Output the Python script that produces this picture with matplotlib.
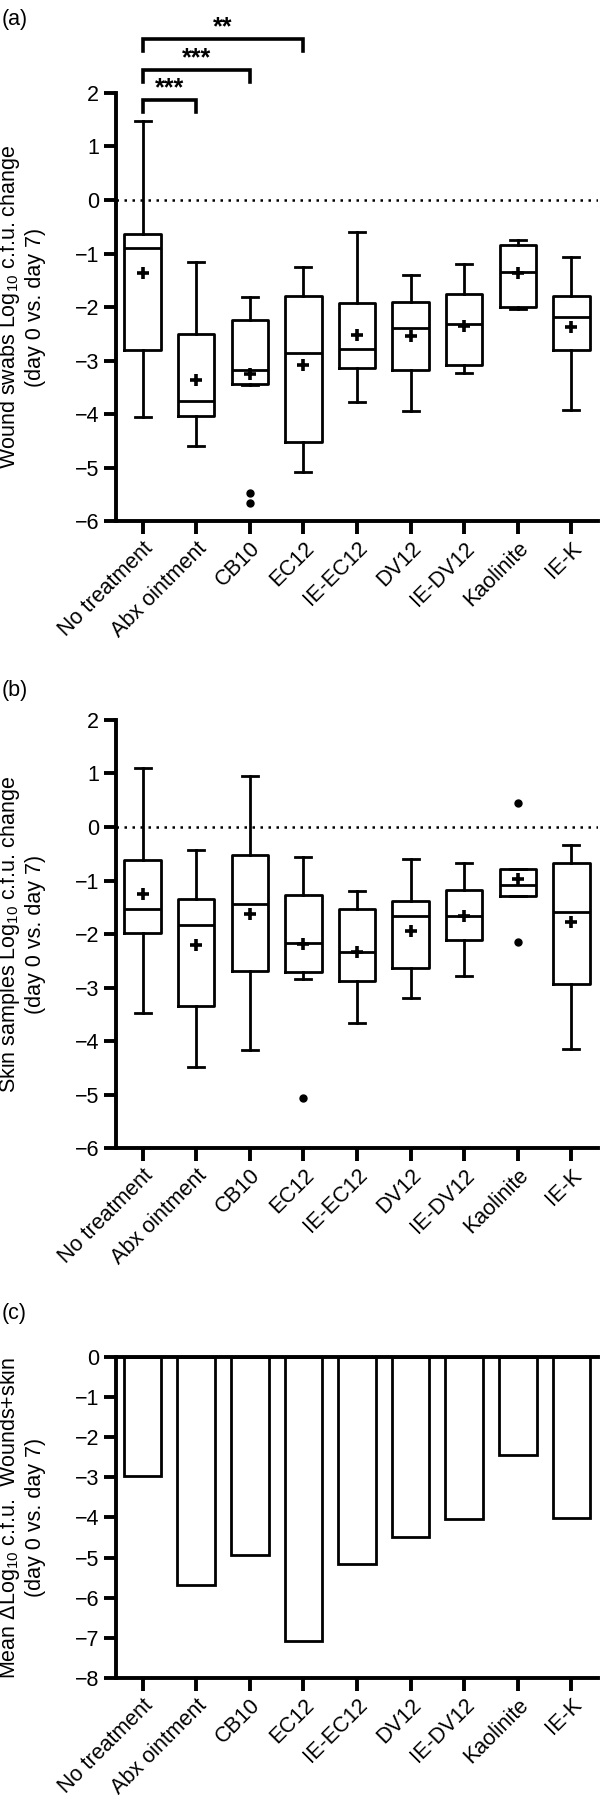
import numpy as np
import matplotlib
matplotlib.use('Agg')
from matplotlib import pyplot as plt

groups = ["No treatment", "Abx ointment", "CB10", "EC12", "IE-EC12",
          "DV12", "IE-DV12", "Kaolinite", "IE-K"]

# (a) wound swabs: box statistics
a_whislo = [-4.05, -4.59, -3.46, -5.09, -3.77, -3.94, -3.23, -2.04, -3.93]
a_q1 = [-2.81, -4.03, -3.44, -4.52, -3.14, -3.18, -3.09, -2.00, -2.81]
a_med = [-0.89, -3.75, -3.18, -2.86, -2.78, -2.40, -2.31, -1.34, -2.19]
a_q3 = [-0.64, -2.50, -2.24, -1.79, -1.93, -1.90, -1.76, -0.84, -1.80]
a_whishi = [1.48, -1.16, -1.81, -1.26, -0.59, -1.41, -1.19, -0.75, -1.06]
a_mean = [-1.36, -3.37, -3.26, -3.09, -2.53, -2.55, -2.35, -1.37, -2.37]
a_fliers = [[], [], [-5.47, -5.67], [], [], [], [], [], []]

# significance brackets: (group i, group j, label)
a_sig = [(0, 1, "***"), (0, 2, "***"), (0, 3, "**")]

# (b) skin samples
b_whislo = [-3.47, -4.49, -4.17, -2.84, -3.66, -3.19, -2.79, -1.29, -4.14]
b_q1 = [-1.98, -3.35, -2.70, -2.71, -2.87, -2.64, -2.12, -1.29, -2.94]
b_med = [-1.53, -1.84, -1.43, -2.16, -2.33, -1.67, -1.66, -1.08, -1.58]
b_q3 = [-0.61, -1.34, -0.53, -1.27, -1.54, -1.39, -1.18, -0.78, -0.67]
b_whishi = [1.11, -0.43, 0.96, -0.56, -1.20, -0.59, -0.67, -0.78, -0.34]
b_mean = [-1.25, -2.21, -1.63, -2.18, -2.34, -1.94, -1.67, -0.98, -1.78]
b_fliers = [[], [], [], [-5.06], [], [], [], [0.44, -2.14], []]

# (c) mean change wounds + skin
c_mean = [-2.97, -5.68, -4.93, -7.07, -5.16, -4.49, -4.03, -2.44, -4.01]

plt.rcParams['font.family'] = ['Liberation Sans', 'DejaVu Sans']
plt.rcParams['mathtext.fontset'] = 'custom'
plt.rcParams['mathtext.rm'] = 'Liberation Sans'
plt.rcParams['mathtext.default'] = 'regular'

LW = 2.0
SPW = 2.8
FS = 15.5


def style_axes(ax, ymin, ymax):
	for s in ["top", "right"]:
		ax.spines[s].set_visible(False)
	for s in ["left", "bottom"]:
		ax.spines[s].set_linewidth(SPW)
	ax.set_xlim(-0.5, 8.5)
	ax.set_ylim(ymin, ymax)
	ax.set_yticks(np.arange(ymin, ymax + 1, 1))
	ax.set_yticklabels(["\u2212%d" % -v if v < 0 else "%d" % v for v in range(ymin, ymax + 1)])
	ax.tick_params(axis="both", direction="out", length=9, width=SPW, labelsize=FS, pad=3)
	ax.set_xticks(np.arange(len(groups)))
	ax.set_xticklabels(groups, rotation=45, ha="right", rotation_mode="anchor", fontsize=FS)
	ax.yaxis.set_label_coords(-0.145, 0.5)


def box_panel(ax, whislo, q1, med, q3, whishi, mean, fliers):
	stats = []
	for i in range(len(groups)):
		stats.append(dict(whislo=whislo[i], q1=q1[i], med=med[i], q3=q3[i],
						  whishi=whishi[i], mean=mean[i], fliers=fliers[i]))
	ax.bxp(stats, positions=np.arange(len(groups)), widths=0.68, showmeans=True,
		   capwidths=0.3,
		   boxprops=dict(linewidth=LW, color="black"),
		   whiskerprops=dict(linewidth=LW, color="black"),
		   capprops=dict(linewidth=LW, color="black"),
		   medianprops=dict(linewidth=LW, color="black"),
		   meanprops=dict(marker="+", markersize=8, markeredgewidth=2.6,
						  markeredgecolor="black"),
		   flierprops=dict(marker="o", markersize=5, markerfacecolor="black",
						   markeredgecolor="black"))
	ax.axhline(0, color="black", linestyle=(0, (1, 2.2)), linewidth=1.8, zorder=0)


fig = plt.figure(figsize=(6, 17.95), dpi=100)

# panel (a)
ax1 = fig.add_axes([0.193, 0.7097, 0.804, 0.2385])
box_panel(ax1, a_whislo, a_q1, a_med, a_q3, a_whishi, a_mean, a_fliers)
style_axes(ax1, -6, 2)
ax1.set_ylabel("Wound swabs Log$_{10}$ c.f.u. change\n(day 0 vs. day 7)", fontsize=FS)

levels = [1.87, 2.43, 3.0]
for (i, j, lab), h in zip(a_sig, levels):
	ax1.plot([i, i, j, j], [h - 0.22, h, h, h - 0.22], color="black", linewidth=2.6,
			 clip_on=False, solid_joinstyle="miter")
	ax1.text((i + j) / 2.0, h + 0.0, lab, ha="center", va="bottom", fontsize=18,
			 fontweight="bold")

fig.text(0.003, 0.9950, "(a)", fontsize=FS, va="top")

# panel (b)
ax2 = fig.add_axes([0.193, 0.3604, 0.804, 0.2385])
box_panel(ax2, b_whislo, b_q1, b_med, b_q3, b_whishi, b_mean, b_fliers)
style_axes(ax2, -6, 2)
ax2.set_ylabel("Skin samples Log$_{10}$ c.f.u. change\n(day 0 vs. day 7)", fontsize=FS)
fig.text(0.003, 0.6210, "(b)", fontsize=FS, va="top")

# panel (c)
ax3 = fig.add_axes([0.193, 0.0652, 0.804, 0.1788])
ax3.bar(np.arange(len(groups)), c_mean, width=0.7, color="white",
		edgecolor="black", linewidth=LW)
style_axes(ax3, -8, 0)
ax3.axhline(0, color="black", linewidth=SPW, clip_on=False)
ax3.set_ylabel("Mean \u0394Log$_{10}$ c.f.u.  Wounds+skin\n(day 0 vs. day 7)", fontsize=FS)
fig.text(0.003, 0.2740, "(c)", fontsize=FS, va="top")

fig.savefig("out.png", dpi=100)
